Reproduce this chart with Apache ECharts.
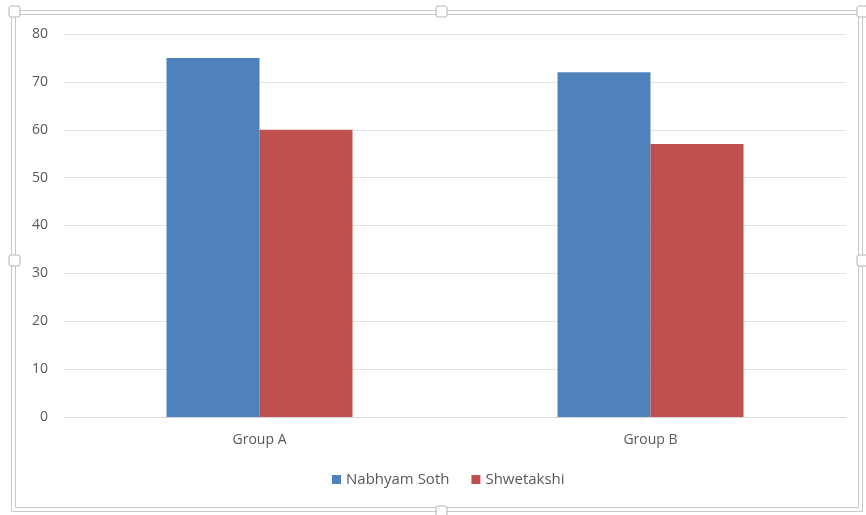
<!DOCTYPE html>
<html lang="en">
    <head>
        <meta charset="UTF-8">
        <title>Group chart</title>
        <script src="https://cdn.jsdelivr.net/npm/echarts@6/dist/echarts.min.js"></script>
        <style type="text/css">
            html, body { margin: 0; padding: 0; background: #fff; }
            #main { width: 866px; height: 515px; }
        </style>
    </head>
    <body>
        <div id="main"></div>
    </body>
    <script type="text/javascript">
        // data
        var groups = ['Group A', 'Group B'];
        var seriesNames = ['Nabhyam Soth', 'Shwetakshi'];
        var nabhyam = [75, 72];
        var shwetakshi = [60, 57];
        var yTicks = [0, 10, 20, 30, 40, 50, 60, 70, 80];

        var textColor = '#595959';
        var frameColor = '#c9c9c9';
        var font = 'Open Sans';

        // excel selection frame (double line + handles)
        function handle(x, y) {
            return {
                type: 'rect', silent: true, z: 10,
                shape: { x: x, y: y, width: 11, height: 11, r: 2 },
                style: { fill: '#fff', stroke: '#b5b5b5', lineWidth: 1 }
            };
        }
        var frame = [
            { type: 'rect', silent: true, shape: { x: 11.5, y: 10.5, width: 851, height: 501 }, style: { fill: 'none', stroke: frameColor, lineWidth: 1 } },
            { type: 'rect', silent: true, shape: { x: 15.5, y: 14.5, width: 843, height: 493 }, style: { fill: 'none', stroke: frameColor, lineWidth: 1 } },
            handle(9, 6), handle(436, 6), handle(9, 255), handle(857, 255), handle(436, 506), handle(857, 6)
        ];

        var myChart = echarts.init(document.getElementById('main'));
        myChart.setOption({
            animation: false,
            textStyle: { fontFamily: font },
            graphic: frame,
            grid: { left: 64, right: 20, top: 34, bottom: 98 },
            legend: {
                data: seriesNames,
                bottom: 23,
                left: 327,
                itemWidth: 9,
                itemHeight: 9,
                itemGap: 22,
                icon: 'rect',
                textStyle: { color: textColor, fontSize: 15, fontFamily: font }
            },
            xAxis: {
                type: 'category',
                data: groups,
                axisLine: { lineStyle: { color: '#d9d9d9' } },
                axisTick: { show: false },
                axisLabel: { color: textColor, fontSize: 14, margin: 16 }
            },
            yAxis: {
                type: 'value',
                min: yTicks[0],
                max: yTicks[yTicks.length - 1],
                interval: 10,
                axisLine: { show: false },
                axisTick: { show: false },
                axisLabel: { color: textColor, fontSize: 14, margin: 16 },
                splitLine: { lineStyle: { color: '#e3e3e3' } }
            },
            series: [
                { name: seriesNames[0], type: 'bar', data: nabhyam, barWidth: 93, barGap: '0%', itemStyle: { color: '#4f81bd' } },
                { name: seriesNames[1], type: 'bar', data: shwetakshi, barWidth: 93, itemStyle: { color: '#c0504d' } }
            ]
        });
    </script>
</html>
